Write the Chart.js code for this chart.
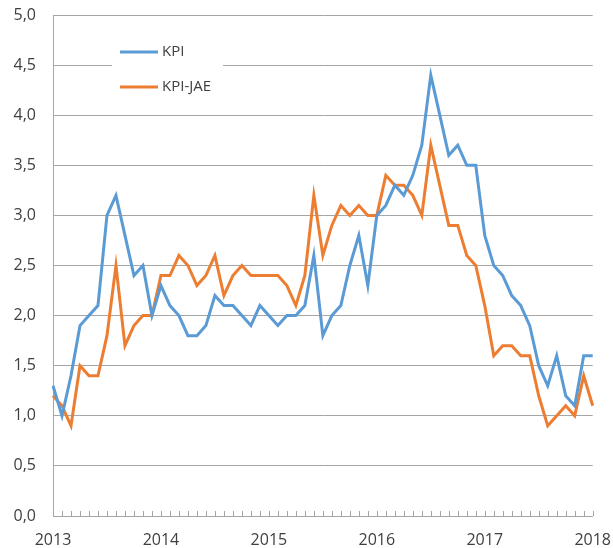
<!DOCTYPE html>
<html>
<head>
<meta charset="utf-8">
<style>
  html, body { margin: 0; padding: 0; background: #fff; }
  #wrap { width: 613px; height: 548px; }
</style>
<script src="https://cdn.jsdelivr.net/npm/chart.js@4.4.0/dist/chart.umd.min.js"></script>
</head>
<body>
<div id="wrap"><canvas id="kpiChart" width="613" height="548"></canvas></div>
<script>
// monthly, Jan 2013 .. Jan 2018
const years = ['2013', '2014', '2015', '2016', '2017', '2018'];
const kpi = [
  1.3, 1.0, 1.4, 1.9, 2.0, 2.1, 3.0, 3.2, 2.8, 2.4, 2.5, 2.0,
  2.3, 2.1, 2.0, 1.8, 1.8, 1.9, 2.2, 2.1, 2.1, 2.0, 1.9, 2.1,
  2.0, 1.9, 2.0, 2.0, 2.1, 2.6, 1.8, 2.0, 2.1, 2.5, 2.8, 2.3,
  3.0, 3.1, 3.3, 3.2, 3.4, 3.7, 4.4, 4.0, 3.6, 3.7, 3.5, 3.5,
  2.8, 2.5, 2.4, 2.2, 2.1, 1.9, 1.5, 1.3, 1.6, 1.2, 1.1, 1.6,
  1.6
];
const kpiJae = [
  1.2, 1.1, 0.9, 1.5, 1.4, 1.4, 1.8, 2.5, 1.7, 1.9, 2.0, 2.0,
  2.4, 2.4, 2.6, 2.5, 2.3, 2.4, 2.6, 2.2, 2.4, 2.5, 2.4, 2.4,
  2.4, 2.4, 2.3, 2.1, 2.4, 3.2, 2.6, 2.9, 3.1, 3.0, 3.1, 3.0,
  3.0, 3.4, 3.3, 3.3, 3.2, 3.0, 3.7, 3.3, 2.9, 2.9, 2.6, 2.5,
  2.1, 1.6, 1.7, 1.7, 1.6, 1.6, 1.2, 0.9, 1.0, 1.1, 1.0, 1.4,
  1.1
];
const yMin = 0, yMax = 5, yStep = 0.5;

const labels = [];
years.forEach(function (y, i) {
  const n = i < years.length - 1 ? 12 : 1;
  for (let m = 1; m <= n; m++) labels.push(y + '-' + String(m).padStart(2, '0'));
});

const FONT = '"Open Sans", sans-serif';
const TXT = '#404040';
const GRID = '#a6a6a6';
const BLUE = '#5b9bd5';
const ORANGE = '#ed7d31';
const NONE = 'rgba(0,0,0,0)';

// small tick marks pointing up into the plot, one per month
const innerTicks = {
  id: 'innerTicks',
  afterDatasetsDraw(chart) {
    const x = chart.scales.x, ctx = chart.ctx, b = chart.chartArea.bottom;
    ctx.save();
    ctx.strokeStyle = GRID;
    ctx.lineWidth = 1;
    ctx.beginPath();
    for (let i = 0; i < x.ticks.length; i++) {
      const px = Math.round(x.getPixelForTick(i)) + 0.5;
      ctx.moveTo(px, b);
      ctx.lineTo(px, b - 5);
    }
    ctx.stroke();
    ctx.restore();
  }
};

// legend sitting inside the plot, top left
const boxLegend = {
  id: 'boxLegend',
  afterDraw(chart) {
    const ctx = chart.ctx;
    ctx.save();
    ctx.fillStyle = '#fff';
    ctx.fillRect(112, 34, 111, 70);
    const items = chart.data.datasets;
    items.forEach(function (ds, i) {
      const y = 52 + i * 35;
      ctx.strokeStyle = ds.borderColor;
      ctx.lineWidth = 3;
      ctx.beginPath();
      ctx.moveTo(120, y);
      ctx.lineTo(158, y);
      ctx.stroke();
      ctx.fillStyle = TXT;
      ctx.font = '15px ' + FONT;
      ctx.textBaseline = 'middle';
      ctx.fillText(ds.label, 162, y);
    });
    ctx.restore();
  }
};

new Chart(document.getElementById('kpiChart'), {
  type: 'line',
  data: {
    labels: labels,
    datasets: [
      { label: 'KPI', data: kpi, borderColor: BLUE, borderWidth: 3, pointRadius: 0, tension: 0, fill: false },
      { label: 'KPI-JAE', data: kpiJae, borderColor: ORANGE, borderWidth: 3, pointRadius: 0, tension: 0, fill: false }
    ]
  },
  options: {
    responsive: false,
    animation: false,
    layout: { padding: { left: 0, top: 15, right: 0, bottom: 0 } },
    plugins: { legend: { display: false }, tooltip: { enabled: false } },
    scales: {
      x: {
        offset: false,
        grid: { display: true, drawOnChartArea: false, drawTicks: true, tickLength: 13, tickColor: NONE },
        border: { display: true, color: GRID, width: 1 },
        ticks: {
          autoSkip: false,
          maxRotation: 0,
          padding: 2,
          color: TXT,
          font: { family: FONT, size: 16 },
          callback: function (v, i) {
            const l = labels[i];
            return l.endsWith('-01') ? l.slice(0, 4) : '';
          }
        },
        afterFit: function (s) { s.height = 32; }
      },
      y: {
        min: yMin,
        max: yMax,
        grid: { color: GRID, drawTicks: true, tickLength: 17, tickColor: NONE },
        border: { display: true, color: GRID },
        ticks: {
          stepSize: yStep,
          padding: 0,
          color: TXT,
          font: { family: FONT, size: 16 },
          callback: function (v) { return v.toFixed(1).replace('.', ','); }
        },
        afterFit: function (s) { s.width = 53; }
      }
    }
  },
  plugins: [innerTicks, boxLegend]
});
</script>
</body>
</html>
